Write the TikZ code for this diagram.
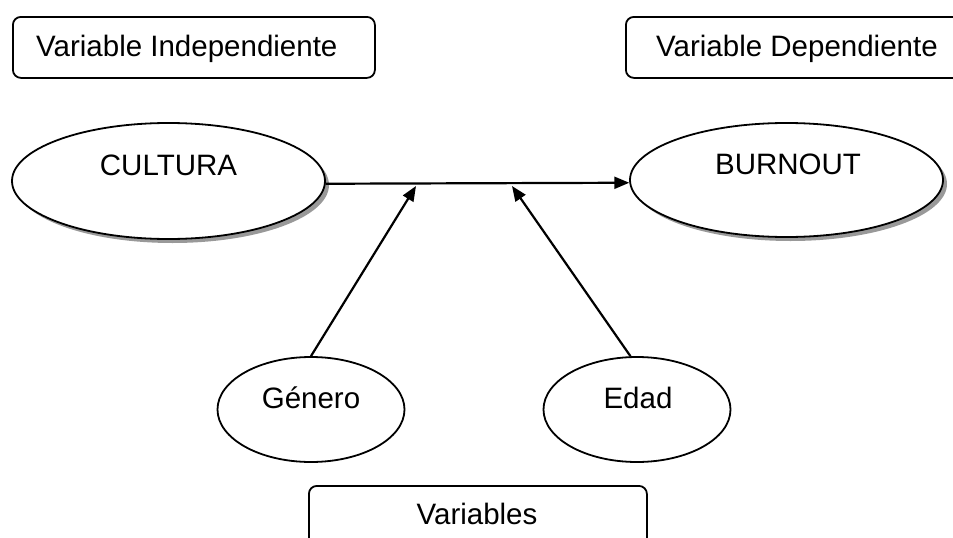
\documentclass[tikz,border=0pt]{standalone}
\usepackage{fontspec}
\setmainfont{Liberation Sans}
\usetikzlibrary{arrows.meta,shadows,shapes.geometric}
\begin{document}
\begin{tikzpicture}[x=1pt,y=-1pt,
  lbl/.style={font=\fontsize{29.5pt}{34pt}\selectfont, inner sep=0pt, anchor=base},
  rbox/.style={draw, line width=1.8pt, rounded corners=8pt, inner sep=0pt, anchor=north west},
  oval/.style={ellipse, draw, line width=1.8pt, fill=white, inner sep=0pt},
  shade/.style={drop shadow={shadow xshift=4pt, shadow yshift=-4pt, fill=black!40, opacity=1}},
  conn/.style={line width=2.2pt, -{Triangle[length=15pt,width=12pt]}}]
\useasboundingbox (0,0) rectangle (953,538);
\clip (0,0) rectangle (953,538);

% boxes
\node[rbox, minimum width=362pt, minimum height=61pt] (indbox) at (12,16) {};
\node[lbl, anchor=base west] (indtxt) at (36,56) {Variable Independiente};
\node[rbox, minimum width=350pt, minimum height=61pt] (depbox) at (625,16) {};
\node[lbl, anchor=base west] (deptxt) at (656,56) {Variable Dependiente};
\node[rbox, minimum width=338pt, minimum height=80pt] (varbox) at (308,485) {};
\node[lbl] (vartxt) at (477,524) {Variables};

% ellipses
\node[oval, shade, minimum width=313pt, minimum height=116pt] (cul) at (168.5,181) {};
\node[lbl] (cultxt) at (168.5,175) {CULTURA};
\node[oval, shade, minimum width=313pt, minimum height=114pt] (burn) at (786.5,180) {};
\node[lbl] (burntxt) at (788,174) {BURNOUT};
\node[oval, minimum width=187pt, minimum height=105pt] (gen) at (311,409.5) {};
\node[lbl] (gentxt) at (311,408) {Género};
\node[oval, minimum width=187pt, minimum height=105pt] (edad) at (637,409.5) {};
\node[lbl] (edadtxt) at (638,408) {Edad};

% connectors
\coordinate (j1) at (416,186);
\coordinate (j2) at (512,186);
\draw[conn] (cul.-1.5) -- (burn.181.5);
\draw[conn] (gen.north) -- (j1);
\draw[conn] (edad.97) -- (j2);
\end{tikzpicture}
\end{document}
